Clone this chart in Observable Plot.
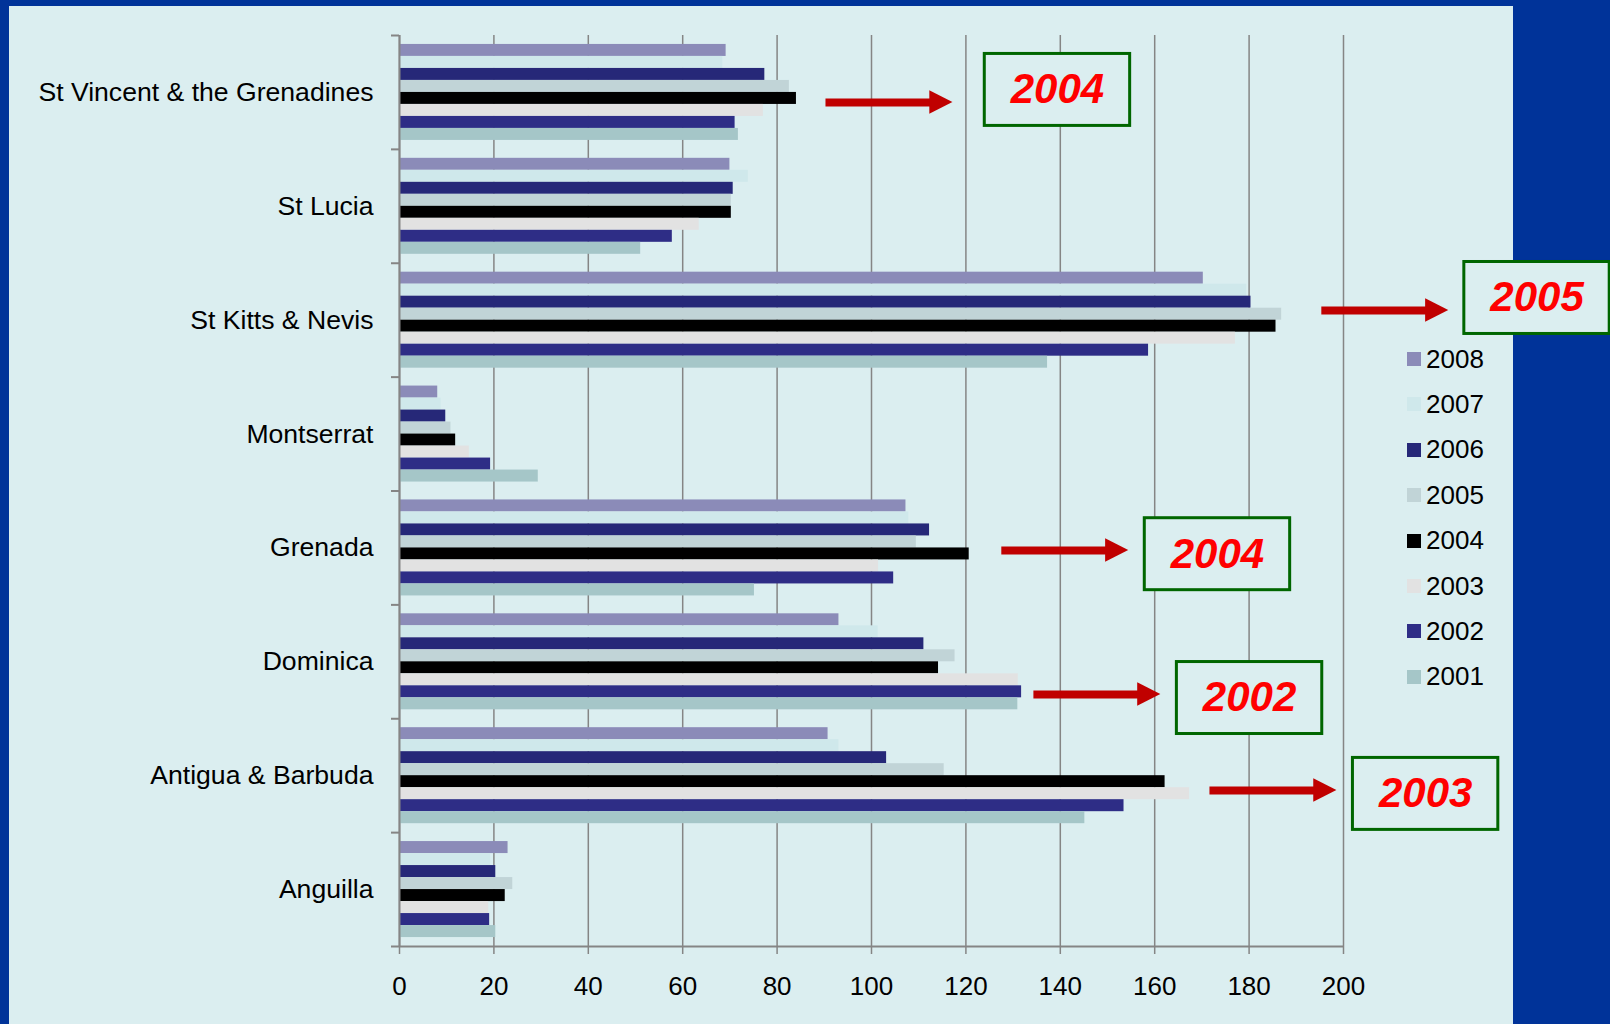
<!DOCTYPE html>
<html><head><meta charset="utf-8">
<script src="https://cdn.jsdelivr.net/npm/d3@7"></script>
<script src="https://cdn.jsdelivr.net/npm/@observablehq/plot@0.6"></script>
<style>
html,body{margin:0;padding:0;background:#003399;width:1610px;height:1024px;overflow:hidden;font-family:"Liberation Sans",Arial,sans-serif;}
#panel{position:absolute;left:9px;top:6px;width:1504px;height:1018px;background:#dbeef0;}
#chart{position:absolute;left:0;top:0;}
#legend{position:absolute;left:1407px;top:0;}
.row{position:absolute;left:0;height:46px;display:flex;align-items:center;font-size:26px;color:#000;white-space:nowrap;}
.sw{width:14px;height:14px;margin-right:5px;}
</style></head><body>
<div id="panel"></div><div id="chart"></div><div id="legend"></div>
<script>
// ---- data ----
const countries = ["St Vincent & the Grenadines","St Lucia","St Kitts & Nevis","Montserrat","Grenada","Dominica","Antigua & Barbuda","Anguilla"];
const years = ["2008","2007","2006","2005","2004","2003","2002","2001"];
const colors = ["#8b8bb8","#cfe8eb","#262878","#c1d4d7","#000000","#e2e2e2","#2e2d86","#a5c6c8"];
const v2008 = [69.2, 70.0, 170.3, 8.1, 107.3, 93.1, 90.8, 23.0];
const v2007 = [68.5, 73.9, 179.5, 8.8, 107.9, 101.4, 93.1, 19.3];
const v2006 = [77.4, 70.7, 180.4, 9.8, 112.3, 111.1, 103.2, 20.4];
const v2005 = [82.6, 70.3, 186.9, 10.9, 109.5, 117.7, 115.4, 24.0];
const v2004 = [84.1, 70.3, 185.7, 11.9, 120.7, 114.2, 162.2, 22.4];
const v2003 = [77.1, 63.5, 177.1, 14.8, 101.5, 131.1, 167.4, 18.9];
const v2002 = [71.1, 57.8, 158.7, 19.3, 104.7, 131.8, 153.5, 19.1];
const v2001 = [71.8, 51.1, 137.3, 29.4, 75.2, 131.0, 145.2, 20.4];
const xTicks = [0, 20, 40, 60, 80, 100, 120, 140, 160, 180, 200];

// annotations (highlighted peak year per island)
const annotLabel = ["2004", "2005", "2004", "2002", "2003"];
const annotArrowX = [90.25, 195.3, 127.5, 134.3, 171.6];
const annotArrowY = [0.588, 2.415, 4.522, 5.787, 6.630];
const annotBoxX = [139.4, 241.0, 173.3, 180.1, 217.4];
const annotBoxY = [0.478, 2.305, 4.555, 5.818, 6.660];

// ---- build ----
const series = [v2008, v2007, v2006, v2005, v2004, v2003, v2002, v2001];
const groupFrac = 0.843;
const h = groupFrac / years.length;
const pad = (1 - groupFrac) / 2;
const rows = [];
series.forEach((vals, k) => vals.forEach((v, c) => rows.push({country: countries[c], ci: c, year: years[k], k, value: v})));

const arrowLen = 27, headLen = 4.9, headHalf = 0.103, boxW = 30.8, boxH = 0.632;
const annot = annotLabel.map((label, i) => ({
  label, ax1: annotArrowX[i], ax2: annotArrowX[i] + arrowLen, ay: annotArrowY[i],
  bx: annotBoxX[i], by: annotBoxY[i]
}));
const heads = annot.flatMap((a, i) => [
  {id: i, y: a.ay - headHalf, x1: a.ax2 - headLen, x2: a.ax2 - headLen},
  {id: i, y: a.ay, x1: a.ax2 - headLen, x2: a.ax2},
  {id: i, y: a.ay + headHalf, x1: a.ax2 - headLen, x2: a.ax2 - headLen}
]);

const gray = "#858585";
const chart = Plot.plot({
  width: 1610, height: 1024,
  marginLeft: 399, marginRight: 267, marginTop: 35, marginBottom: 78,
  style: {background: "transparent", fontFamily: "Liberation Sans, Arial, sans-serif", fontSize: "26px", color: "black", overflow: "visible"},
  x: {type: "linear", domain: [0, 200], label: null},
  y: {type: "linear", domain: [0, countries.length], reverse: true, label: null},
  color: {domain: years, range: colors},
  marks: [
    Plot.gridX({ticks: xTicks, stroke: gray, strokeOpacity: 1, strokeWidth: 1.5}),
    Plot.rect(rows, {x1: 0, x2: "value", y1: d => d.ci + pad + d.k * h, y2: d => d.ci + pad + (d.k + 1) * h, fill: "year"}),
    Plot.ruleX([0], {stroke: gray, strokeWidth: 2}),
    Plot.ruleY([countries.length], {stroke: gray, strokeWidth: 2}),
    Plot.axisX({ticks: xTicks, tickSize: 8, tickPadding: 22, stroke: gray, strokeWidth: 1.5, fill: "black", fontSize: 26, label: null}),
    Plot.axisY({ticks: d3.range(0, countries.length + 1), tickSize: 8, tickFormat: () => "", stroke: gray, strokeWidth: 2, label: null}),
    Plot.axisY({ticks: countries.map((_, i) => i + 0.5), tickSize: 0, tickPadding: 26, tickFormat: v => countries[Math.floor(v)], fill: "black", fontSize: 26.6, label: null}),
    Plot.link(annot, {x1: "ax1", x2: d => d.ax2 - headLen + 0.3, y1: "ay", y2: "ay", stroke: "#c00000", strokeWidth: 8}),
    Plot.areaX(heads, {y: "y", x1: "x1", x2: "x2", z: "id", fill: "#c00000"}),
    Plot.rect(annot, {x1: d => d.bx - boxW / 2, x2: d => d.bx + boxW / 2, y1: d => d.by - boxH / 2, y2: d => d.by + boxH / 2, fill: "#dbeef0", stroke: "#006600", strokeWidth: 3}),
    Plot.text(annot, {x: "bx", y: "by", text: "label", fill: "#ff0000", fontSize: 42, fontWeight: "bold", fontStyle: "italic"})
  ]
});
document.getElementById("chart").appendChild(chart);

// legend
const legend = document.getElementById("legend");
years.forEach((yr, i) => {
  const row = document.createElement("div");
  row.className = "row";
  row.style.top = (336 + i * 45.4) + "px";
  const sw = document.createElement("div");
  sw.className = "sw";
  sw.style.background = colors[i];
  const t = document.createElement("span");
  t.textContent = yr;
  row.appendChild(sw); row.appendChild(t);
  legend.appendChild(row);
});
</script>
</body></html>
